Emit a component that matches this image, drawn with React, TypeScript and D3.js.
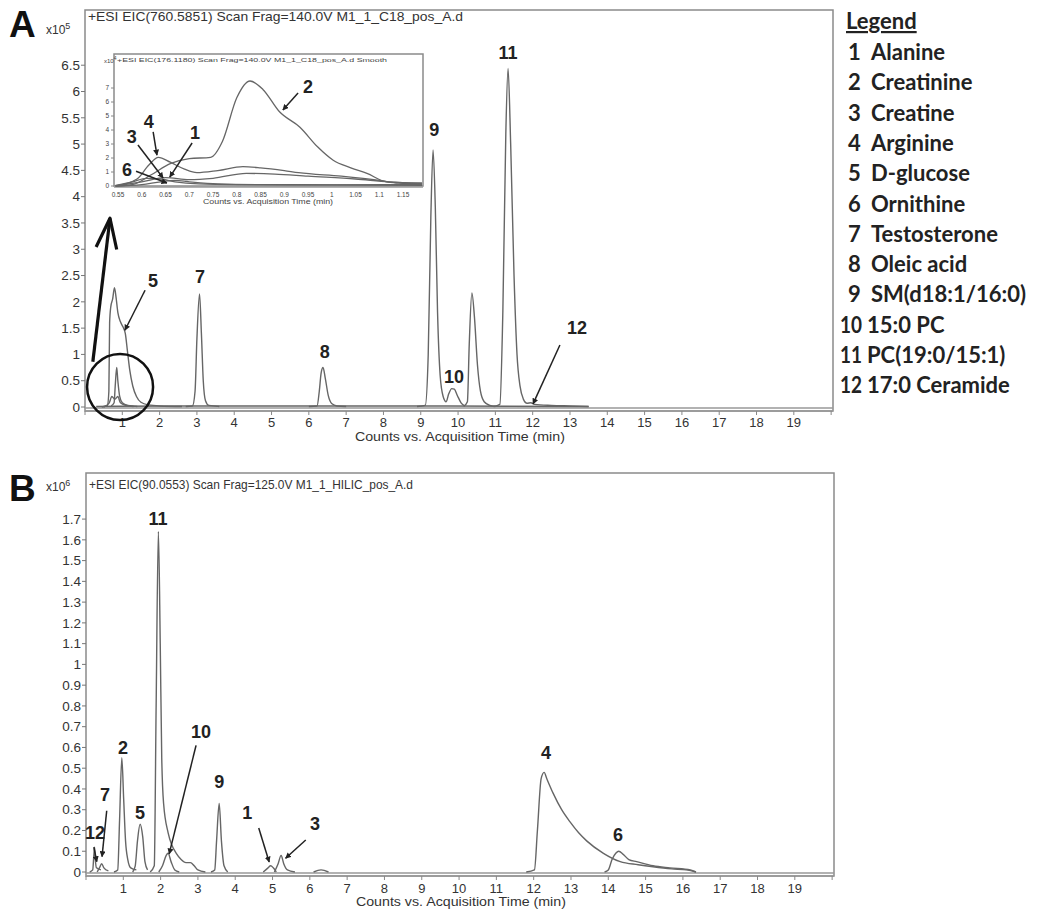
import React from "react";
import * as d3 from "d3";

// ---- data (time in min, intensity in axis units) ----
const legendItems = [
  "1  Alanine", "2  Creatinine", "3  Creatine", "4  Arginine", "5  D-glucose",
  "6  Ornithine", "7  Testosterone", "8  Oleic acid", "9  SM(d18:1/16:0)",
  "10 15:0 PC", "11 PC(19:0/15:1)", "12 17:0 Ceramide",
];

const xTickLabels = ["1","2","3","4","5","6","7","8","9","10","11","12","13","14","15","16","17","18","19"];
const yTicksA = ["0","0.5","1","1.5","2","2.5","3","3.5","4","4.5","5","5.5","6","6.5"];
const yTicksB = ["0","0.1","0.2","0.3","0.4","0.5","0.6","0.7","0.8","0.9","1","1.1","1.2","1.3","1.4","1.5","1.6","1.7"];
const insetXTicks = ["0.55","0.6","0.65","0.7","0.75","0.8","0.85","0.9","0.95","1","1.05","1.1","1.15"];
const insetYTicks = ["0","1","2","3","4","5","6","7"];

// panel A (x10^5)
const a5 = [[0.45,0],[0.6,0.03],[0.64,0.3],[0.66,1.6],[0.69,1.9],[0.74,2.05],[0.79,2.27],[0.83,2.1],[0.88,1.8],[0.95,1.62],[1.02,1.52],[1.08,1.4],[1.14,1.05],[1.2,0.7],[1.28,0.4],[1.38,0.2],[1.5,0.09],[1.7,0.04],[2.0,0.02],[2.6,0.01]];
const aSmall = [[0.7,0.02],[0.78,0.08],[0.81,0.4],[0.85,0.75],[0.88,0.5],[0.93,0.2],[1.0,0.08],[1.15,0.03],[1.4,0.01]];
const aLow = [[0.5,0],[0.65,0.08],[0.72,0.2],[0.8,0.15],[0.88,0.2],[0.95,0.08],[1.1,0.03],[1.3,0.01]];
const a7 = [[2.7,0.01],[2.88,0.02],[2.95,0.3],[3.0,1.3],[3.07,2.15],[3.12,1.4],[3.17,0.5],[3.23,0.12],[3.32,0.03],[3.6,0.01]];
const a8 = [[6.0,0.01],[6.22,0.02],[6.28,0.3],[6.33,0.65],[6.38,0.75],[6.44,0.55],[6.52,0.22],[6.62,0.06],[6.75,0.02],[7.0,0.01]];
const a9 = [[8.9,0.01],[9.12,0.03],[9.2,1.0],[9.27,3.6],[9.33,4.89],[9.39,3.8],[9.45,1.8],[9.52,0.6],[9.6,0.2],[9.68,0.1],[9.75,0.25],[9.83,0.35],[9.9,0.34],[9.98,0.22],[10.08,0.08],[10.18,0.02]];
const a10b = [[10.15,0.01],[10.25,0.1],[10.3,1.2],[10.37,2.17],[10.44,1.7],[10.52,0.8],[10.6,0.3],[10.7,0.1],[10.85,0.03],[11.0,0.01]];
const a11 = [[10.95,0.01],[11.12,0.05],[11.2,1.8],[11.28,5.2],[11.34,6.44],[11.41,5.0],[11.5,2.5],[11.58,1.0],[11.66,0.4],[11.75,0.15],[11.85,0.07],[11.95,0.08],[12.05,0.05],[12.5,0.03],[13.0,0.02],[13.5,0.01]];
const aBase = [[0.3,0.01],[2.5,0.02],[5,0.02],[8,0.02],[13.5,0.01]];

// inset (x10^4)
const i2 = [[0.545,0],[0.58,0.1],[0.62,0.8],[0.66,1.6],[0.7,1.95],[0.745,2.05],[0.77,3.2],[0.8,6.3],[0.828,7.5],[0.855,6.9],[0.89,5.3],[0.933,4.2],[0.97,2.8],[1.003,1.84],[1.04,1.3],[1.074,0.9],[1.116,0.3],[1.19,0.2]];
const i4 = [[0.545,0],[0.59,0.5],[0.615,1.5],[0.635,2.05],[0.66,1.7],[0.69,1.2],[0.716,0.95],[0.76,1.1],[0.813,1.38],[0.85,1.3],[0.9,1.1],[0.93,0.95],[1.02,0.7],[1.1,0.4],[1.14,0.2],[1.19,0.15]];
const iC = [[0.545,0],[0.6,0.3],[0.65,0.6],[0.7,0.45],[0.75,0.55],[0.82,0.9],[0.88,0.85],[0.95,0.7],[1.05,0.5],[1.12,0.3],[1.19,0.2]];
const i3 = [[0.545,0.05],[0.58,0.3],[0.61,0.55],[0.64,0.5],[0.67,0.3],[0.72,0.15],[0.8,0.1],[1.0,0.08],[1.19,0.05]];
const i1 = [[0.545,0],[0.6,0.1],[0.64,0.3],[0.67,0.4],[0.7,0.3],[0.76,0.15],[0.85,0.1],[1.0,0.08],[1.19,0.1]];

// panel B (x10^6)
const b12 = [[0.1,0],[0.18,0.01],[0.21,0.08],[0.23,0.12],[0.25,0.06],[0.28,0.02],[0.4,0.01]];
const b7 = [[0.3,0],[0.36,0.02],[0.42,0.04],[0.48,0.02],[0.6,0.005]];
const b2 = [[0.75,0],[0.85,0.01],[0.9,0.25],[0.96,0.55],[1.01,0.35],[1.06,0.15],[1.12,0.06],[1.2,0.02],[1.35,0.01]];
const b5 = [[1.25,0],[1.32,0.03],[1.38,0.15],[1.45,0.23],[1.52,0.17],[1.58,0.05],[1.65,0.01]];
const b11 = [[1.72,0],[1.83,0.03],[1.88,0.8],[1.94,1.64],[1.99,1.1],[2.03,0.55],[2.08,0.33],[2.2,0.19],[2.3,0.13],[2.42,0.09],[2.55,0.06],[2.68,0.045],[2.8,0.045],[2.9,0.03],[3.0,0.01],[3.2,0]];
const b10 = [[1.95,0],[2.05,0.03],[2.15,0.08],[2.2,0.09],[2.28,0.05],[2.38,0.01],[2.5,0]];
const b9 = [[3.35,0],[3.45,0.01],[3.5,0.15],[3.57,0.33],[3.63,0.15],[3.7,0.03],[3.8,0]];
const b1 = [[4.75,0],[4.88,0.02],[4.95,0.03],[5.02,0.02],[5.1,0]];
const b3 = [[5.05,0],[5.15,0.04],[5.23,0.08],[5.3,0.04],[5.4,0.01],[5.6,0]];
const bMisc = [[6.1,0],[6.3,0.01],[6.5,0]];
const b4 = [[11.8,0],[12.02,0.01],[12.1,0.2],[12.2,0.45],[12.28,0.48],[12.35,0.45],[12.52,0.38],[12.75,0.3],[12.98,0.24],[13.2,0.19],[13.42,0.15],[13.87,0.09],[14.32,0.05],[14.8,0.035],[15.2,0.025],[15.7,0.015],[16.1,0.01],[16.35,0]];
const b6 = [[13.9,0],[14.0,0.01],[14.1,0.06],[14.2,0.09],[14.28,0.1],[14.4,0.085],[14.55,0.06],[14.76,0.05],[15.2,0.03],[15.65,0.02],[16.2,0.01],[16.35,0]];

// peak labels: [text, t, v, leader from t, v, to t, v]
const labelsA = [
  ["5", 1.82, 2.41, 1.61, 2.22, 1.07, 1.46],
  ["7", 3.08, 2.47],
  ["8", 6.43, 1.05],
  ["9", 9.36, 5.27],
  ["10", 9.89, 0.57],
  ["11", 11.34, 6.73],
  ["12", 13.19, 1.5, 12.73, 1.18, 12.01, 0.06],
];
const labelsInset = [
  ["2", 0.95, 7.07, 0.929, 6.64, 0.897, 5.43],
  ["1", 0.712, 3.79, 0.706, 3.07, 0.659, 0.64],
  ["3", 0.579, 3.5, 0.592, 2.93, 0.645, 0.57],
  ["4", 0.615, 4.57, 0.624, 3.86, 0.632, 2.21],
  ["6", 0.569, 1.14, 0.588, 1.05, 0.653, 0.21],
];
const labelsB = [
  ["12", 0.24, 0.188, 0.21, 0.12, 0.29, 0.05],
  ["7", 0.51, 0.37, 0.555, 0.295, 0.43, 0.074],
  ["2", 0.99, 0.6],
  ["5", 1.45, 0.284],
  ["11", 1.93, 1.7],
  ["10", 3.08, 0.674, 2.95, 0.61, 2.23, 0.087],
  ["9", 3.57, 0.434],
  ["1", 4.32, 0.284, 4.63, 0.212, 4.91, 0.048],
  ["3", 6.14, 0.231, 5.89, 0.154, 5.35, 0.066],
  ["4", 12.33, 0.573],
  ["6", 14.26, 0.178],
];

const FONT = "Arial, 'Liberation Sans', sans-serif";
const LINE = "#666";
const AXIS = "#8a8a8a";

const Axes = ({ x, y, yTicks, xTitleY, tickLabelY }) => {
  const [x0, x1] = x.range();
  const [yb, yt] = y.range();
  return (
    <g fontFamily={FONT}>
      <rect x={x0} y={yt} width={x1 - x0} height={yb - yt + 4} fill="none" stroke={AXIS} strokeWidth={1.5} />
      <line x1={x0} x2={x1} y1={yb + 1} y2={yb + 1} stroke="#999" strokeWidth={1.5} />
      <line x1={x0} x2={x1} y1={yb + 4} y2={yb + 4} stroke="#999" strokeWidth={1.5} />
      {yTicks.map((t) => (
        <g key={t}>
          <line x1={x0 - 4} x2={x0} y1={y(+t)} y2={y(+t)} stroke="#777" />
          <text x={x0 - 5} y={y(+t)} dy="0.35em" textAnchor="end" fontSize={13.5} fill="#333">{t}</text>
        </g>
      ))}
      {d3.range(0, 21).map((v) => (
        <line key={v} x1={x(v)} x2={x(v)} y1={yb + 4} y2={yb + 8} stroke="#888" />
      ))}
      {xTickLabels.map((t) => (
        <text key={t} x={x(+t)} y={tickLabelY} dy="0.35em" textAnchor="middle" fontSize={13} fill="#333">{t}</text>
      ))}
      <text x={x(10.05)} y={xTitleY} dy="0.35em" textAnchor="middle" fontSize={13} fill="#333" textLength={210} lengthAdjust="spacingAndGlyphs">Counts vs. Acquisition Time (min)</text>
    </g>
  );
};

const Labels = ({ items, x, y, size }) => (
  <g fontFamily={FONT} fontWeight="bold" fontSize={size} fill="#222">
    {items.map((l, i) => (
      <g key={i}>
        <text x={x(l[1])} y={y(l[2])} dy="0.35em" textAnchor="middle">{l[0]}</text>
        {l.length > 3 && (
          <line x1={x(l[3])} y1={y(l[4])} x2={x(l[5])} y2={y(l[6])} stroke="#222" strokeWidth={1.5} markerEnd="url(#tip)" />
        )}
      </g>
    ))}
  </g>
);

export default function App() {
  const xA = d3.scaleLinear().domain([0, 20.05]).range([85, 833]);
  const yA = d3.scaleLinear().domain([0, 7.55]).range([407, 10]);
  const xB = d3.scaleLinear().domain([0, 20.05]).range([86, 834]);
  const yB = d3.scaleLinear().domain([0, 1.922]).range([872, 473]);
  const xI = d3.scaleLinear().domain([0.5416, 1.192]).range([114, 423]);
  const yI = d3.scaleLinear().domain([0, 9.43]).range([186, 54]);

  const lineOf = (x, y) =>
    d3.line().x((d) => x(d[0])).y((d) => y(d[1])).curve(d3.curveMonotoneX);
  const lA = lineOf(xA, yA);
  const lB = lineOf(xB, yB);
  const lI = lineOf(xI, yI);

  const tracesA = [aBase, a5, aSmall, aLow, a7, a8, a9, a10b, a11];
  const tracesB = [b12, b7, b2, b5, b11, b10, b9, b1, b3, bMisc, b4, b6];
  const tracesI = [i2, i4, iC, i3, i1];

  // zoom arrow from circle to inset
  const arrFrom = [xA(0.21), yA(0.86)];
  const arrTo = [xA(0.67), yA(3.59)];
  const ang = Math.atan2(arrTo[1] - arrFrom[1], arrTo[0] - arrFrom[0]);
  const wing = (da) => [arrTo[0] - 32 * Math.cos(ang + da), arrTo[1] - 32 * Math.sin(ang + da)];
  const w1 = wing(0.33);
  const w2 = wing(-0.33);

  return (
    <svg width={1050} height={914} style={{ position: "absolute", left: 0, top: 0, background: "#fff" }}>
      <defs>
        <marker id="tip" viewBox="0 0 10 10" refX="9" refY="5" markerWidth="4" markerHeight="4" orient="auto">
          <path d="M0,0 L10,5 L0,10 z" fill="#222" />
        </marker>
      </defs>

      {/* ---------- Panel A ---------- */}
      <text x={9} y={37} fontFamily={FONT} fontWeight="bold" fontSize={37} fill="#111">A</text>
      <text x={46} y={34} fontFamily={FONT} fontSize={12} fill="#333">x10<tspan dy={-5} fontSize={9}>5</tspan></text>
      <Axes x={xA} y={yA} yTicks={yTicksA} tickLabelY={422} xTitleY={436} />
      <text x={88} y={21} fontFamily={FONT} fontSize={13} fill="#333" textLength={375} lengthAdjust="spacingAndGlyphs">+ESI EIC(760.5851) Scan Frag=140.0V M1_1_C18_pos_A.d</text>
      {tracesA.map((d, i) => (
        <path key={i} d={lA(d)} fill="none" stroke={LINE} strokeWidth={1.4} />
      ))}
      <Labels items={labelsA} x={xA} y={yA} size={18} />

      {/* inset */}
      <g fontFamily={FONT}>
        <rect x={114} y={54} width={309} height={132} fill="#fff" stroke={AXIS} strokeWidth={1.5} />
        <line x1={114} x2={423} y1={187} y2={187} stroke="#999" strokeWidth={1.5} />
        {insetYTicks.map((t) => (
          <g key={t}>
            <line x1={111} x2={114} y1={yI(+t)} y2={yI(+t)} stroke="#888" />
            <text x={109} y={yI(+t)} dy="0.35em" textAnchor="end" fontSize={6.5} fill="#444">{t}</text>
          </g>
        ))}
        <text x={104} y={63} fontSize={6} fill="#444">x10<tspan dy={-3} fontSize={5}>4</tspan></text>
        {insetXTicks.map((t) => (
          <text key={t} x={xI(+t)} y={195} dy="0.35em" textAnchor="middle" fontSize={6.5} fill="#444">{t}</text>
        ))}
        <text x={268} y={202} dy="0.35em" textAnchor="middle" fontSize={7} fill="#444" textLength={130} lengthAdjust="spacingAndGlyphs">Counts vs. Acquisition Time (min)</text>
        <text x={117} y={62} fontSize={6} fill="#444" textLength={270} lengthAdjust="spacingAndGlyphs">+ESI EIC(176.1180) Scan Frag=140.0V M1_1_C18_pos_A.d Smooth</text>
        {tracesI.map((d, i) => (
          <path key={i} d={lI(d)} fill="none" stroke={LINE} strokeWidth={1.3} />
        ))}
      </g>
      <Labels items={labelsInset} x={xI} y={yI} size={18} />

      {/* zoom circle and arrow */}
      <circle cx={xA(0.94)} cy={yA(0.38)} r={33} fill="none" stroke="#111" strokeWidth={2.5} />
      <line x1={arrFrom[0]} y1={arrFrom[1]} x2={arrTo[0]} y2={arrTo[1]} stroke="#111" strokeWidth={3.2} />
      <polyline points={`${w1[0]},${w1[1]} ${arrTo[0]},${arrTo[1]} ${w2[0]},${w2[1]}`} fill="none" stroke="#111" strokeWidth={3.2} strokeLinejoin="round" />

      {/* legend */}
      <g fontFamily="Lato, 'Open Sans', sans-serif" fontWeight="bold" fontSize={22} fill="#222">
        <text x={846} y={29} textDecoration="underline">Legend</text>
        {legendItems.map((s, i) => {
          const [num, ...rest] = s.split(" ").filter((p) => p !== "");
          const two = num.length > 1;
          return (
            <text key={s} x={two ? 840 : 848} y={60 + i * 30.3}>
              <tspan textLength={two ? 22 : undefined} lengthAdjust="spacingAndGlyphs">{num}</tspan>
              <tspan x={two ? 867 : 871}>{rest.join(" ")}</tspan>
            </text>
          );
        })}
      </g>

      {/* ---------- Panel B ---------- */}
      <text x={9} y={501} fontFamily={FONT} fontWeight="bold" fontSize={37} fill="#111">B</text>
      <text x={46} y={491} fontFamily={FONT} fontSize={12} fill="#333">x10<tspan dy={-5} fontSize={9}>6</tspan></text>
      <Axes x={xB} y={yB} yTicks={yTicksB} tickLabelY={888} xTitleY={901} />
      <text x={89} y={489} fontFamily={FONT} fontSize={13} fill="#333" textLength={324} lengthAdjust="spacingAndGlyphs">+ESI EIC(90.0553) Scan Frag=125.0V M1_1_HILIC_pos_A.d</text>
      {tracesB.map((d, i) => (
        <path key={i} d={lB(d)} fill="none" stroke={LINE} strokeWidth={1.4} />
      ))}
      <Labels items={labelsB} x={xB} y={yB} size={18} />
    </svg>
  );
}
